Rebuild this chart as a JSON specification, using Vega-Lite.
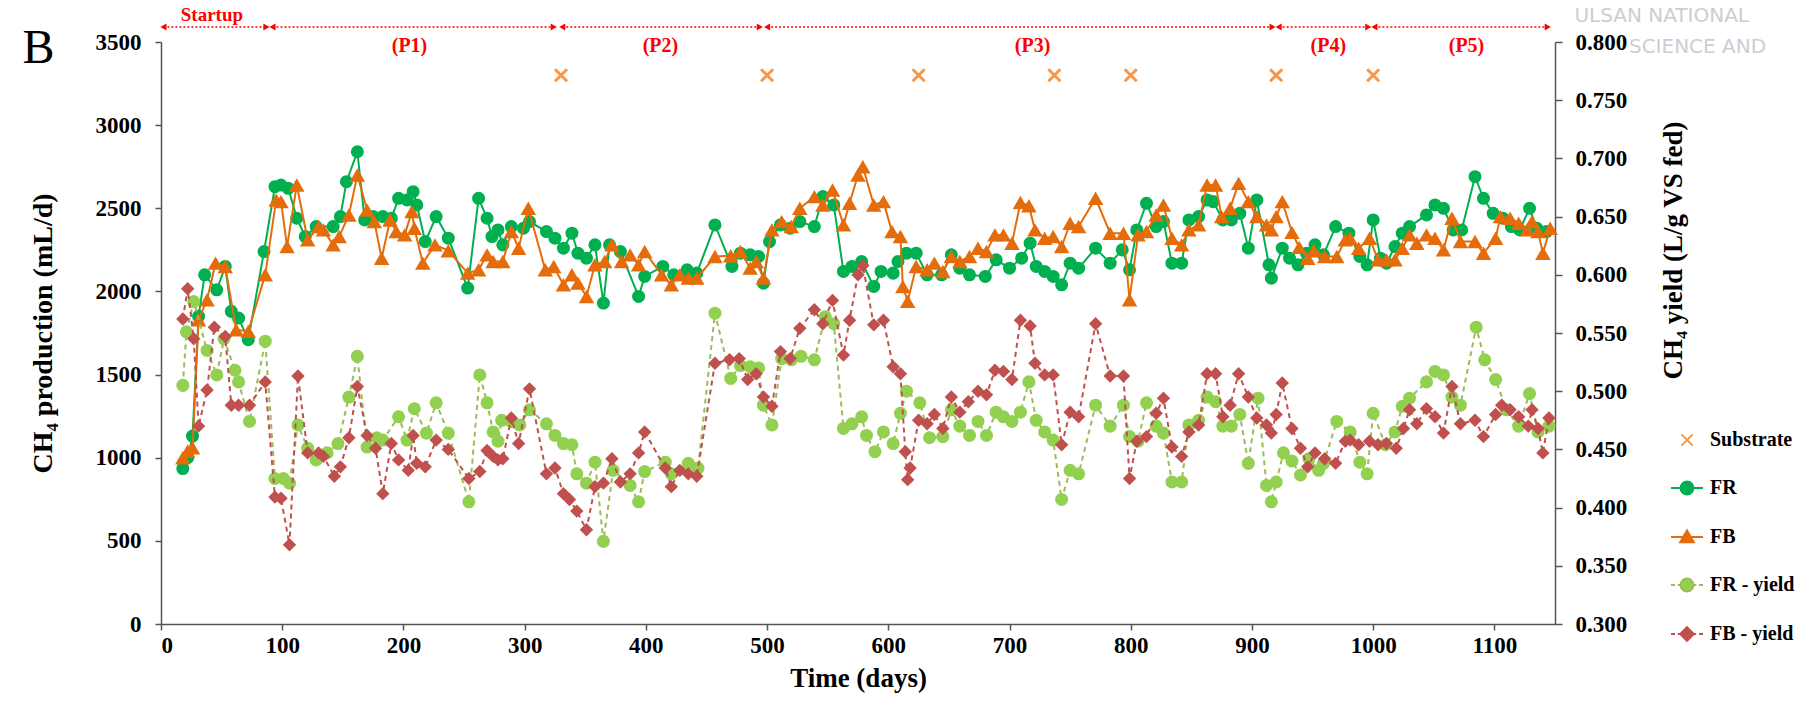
{
  "$schema": "https://vega.github.io/schema/vega-lite/v6.json",
  "autosize": {"type": "none"},
  "padding": {"left": 161, "top": 42, "right": 248, "bottom": 77},
  "width": 1394,
  "height": 582,
  "config": {
    "font": "Liberation Serif",
    "view": {"stroke": null},
    "axis": {"grid": false, "labelFont": "Liberation Serif", "labelFontSize": 23, "labelFontWeight": "bold", "labelColor": "#000000", "titleFont": "Liberation Serif", "titleFontSize": 27, "titleFontWeight": "bold", "titleColor": "#000000", "domainColor": "#555555", "tickColor": "#555555", "domainWidth": 1.5, "tickWidth": 1.5},
    "legend": {"orient": "none", "legendX": 1516, "legendY": 388, "padding": 0, "labelFont": "Liberation Serif", "labelFontWeight": "bold", "labelFontSize": 20, "labelColor": "#000000", "symbolSize": 256, "symbolStrokeWidth": 2, "rowPadding": 27, "labelOffset": 13, "symbolOpacity": 1}
  },
  "datasets": {
    "FR": [
      {"d":18,"v":935},{"d":22,"v":1000},{"d":26,"v":1130},{"d":31,"v":1850},{"d":36,"v":2100},{"d":46,"v":2010},{"d":53,"v":2150},{"d":58,"v":1880},{"d":64,"v":1840},{"d":72,"v":1710},{"d":85,"v":2240},{"d":94,"v":2630},{"d":99,"v":2640},{"d":105,"v":2620},{"d":112,"v":2440},{"d":119,"v":2330},{"d":128,"v":2390},{"d":142,"v":2390},{"d":148,"v":2450},{"d":153,"v":2660},{"d":162,"v":2840},{"d":168,"v":2430},{"d":175,"v":2450},{"d":183,"v":2450},{"d":190,"v":2440},{"d":196,"v":2560},{"d":203,"v":2550},{"d":208,"v":2600},{"d":211,"v":2520},{"d":218,"v":2300},{"d":227,"v":2450},{"d":237,"v":2320},{"d":253,"v":2020},{"d":262,"v":2560},{"d":269,"v":2440},{"d":273,"v":2330},{"d":278,"v":2370},{"d":282,"v":2280},{"d":289,"v":2390},{"d":299,"v":2380},{"d":304,"v":2420},{"d":318,"v":2360},{"d":325,"v":2320},{"d":332,"v":2260},{"d":339,"v":2350},{"d":344,"v":2230},{"d":351,"v":2200},{"d":358,"v":2280},{"d":365,"v":1930},{"d":370,"v":2280},{"d":379,"v":2240},{"d":394,"v":1970},{"d":399,"v":2090},{"d":414,"v":2150},{"d":423,"v":2100},{"d":434,"v":2130},{"d":442,"v":2110},{"d":457,"v":2400},{"d":471,"v":2150},{"d":478,"v":2230},{"d":486,"v":2220},{"d":493,"v":2210},{"d":497,"v":2050},{"d":502,"v":2300},{"d":511,"v":2400},{"d":519,"v":2380},{"d":527,"v":2420},{"d":539,"v":2390},{"d":546,"v":2570},{"d":555,"v":2520},{"d":563,"v":2120},{"d":570,"v":2150},{"d":578,"v":2180},{"d":588,"v":2030},{"d":594,"v":2120},{"d":604,"v":2110},{"d":608,"v":2180},{"d":615,"v":2230},{"d":623,"v":2230},{"d":632,"v":2100},{"d":644,"v":2100},{"d":652,"v":2220},{"d":659,"v":2140},{"d":667,"v":2100},{"d":680,"v":2090},{"d":689,"v":2190},{"d":700,"v":2140},{"d":710,"v":2200},{"d":717,"v":2290},{"d":722,"v":2150},{"d":729,"v":2120},{"d":736,"v":2090},{"d":743,"v":2040},{"d":750,"v":2170},{"d":757,"v":2140},{"d":771,"v":2260},{"d":783,"v":2170},{"d":793,"v":2250},{"d":799,"v":2130},{"d":805,"v":2370},{"d":813,"v":2530},{"d":821,"v":2390},{"d":827,"v":2420},{"d":834,"v":2170},{"d":842,"v":2170},{"d":848,"v":2430},{"d":856,"v":2450},{"d":863,"v":2550},{"d":868,"v":2540},{"d":876,"v":2430},{"d":883,"v":2430},{"d":890,"v":2470},{"d":897,"v":2260},{"d":904,"v":2550},{"d":914,"v":2160},{"d":916,"v":2080},{"d":925,"v":2260},{"d":931,"v":2200},{"d":938,"v":2160},{"d":945,"v":2230},{"d":952,"v":2280},{"d":959,"v":2220},{"d":969,"v":2390},{"d":980,"v":2350},{"d":989,"v":2210},{"d":995,"v":2160},{"d":1000,"v":2430},{"d":1006,"v":2200},{"d":1011,"v":2170},{"d":1018,"v":2270},{"d":1024,"v":2350},{"d":1030,"v":2390},{"d":1044,"v":2460},{"d":1051,"v":2520},{"d":1058,"v":2500},{"d":1066,"v":2370},{"d":1073,"v":2370},{"d":1084,"v":2690},{"d":1091,"v":2560},{"d":1099,"v":2470},{"d":1107,"v":2440},{"d":1114,"v":2390},{"d":1121,"v":2370},{"d":1129,"v":2500},{"d":1135,"v":2380},{"d":1143,"v":2360}
    ],
    "FB": [
      {"d":18,"v":1000},{"d":22,"v":1040},{"d":26,"v":1060},{"d":31,"v":1830},{"d":38,"v":1950},{"d":45,"v":2170},{"d":53,"v":2150},{"d":62,"v":1770},{"d":72,"v":1760},{"d":86,"v":2100},{"d":95,"v":2550},{"d":99,"v":2540},{"d":104,"v":2270},{"d":112,"v":2640},{"d":121,"v":2310},{"d":130,"v":2390},{"d":134,"v":2370},{"d":142,"v":2280},{"d":147,"v":2330},{"d":155,"v":2460},{"d":162,"v":2700},{"d":170,"v":2490},{"d":176,"v":2420},{"d":182,"v":2200},{"d":189,"v":2430},{"d":194,"v":2360},{"d":201,"v":2340},{"d":207,"v":2480},{"d":209,"v":2380},{"d":216,"v":2170},{"d":226,"v":2280},{"d":237,"v":2245},{"d":253,"v":2110},{"d":262,"v":2130},{"d":269,"v":2220},{"d":274,"v":2180},{"d":282,"v":2180},{"d":289,"v":2360},{"d":295,"v":2260},{"d":303,"v":2500},{"d":317,"v":2130},{"d":324,"v":2150},{"d":332,"v":2040},{"d":339,"v":2100},{"d":344,"v":2050},{"d":351,"v":1970},{"d":358,"v":2160},{"d":366,"v":2180},{"d":372,"v":2280},{"d":380,"v":2180},{"d":387,"v":2220},{"d":394,"v":2160},{"d":399,"v":2240},{"d":413,"v":2100},{"d":421,"v":2040},{"d":428,"v":2100},{"d":435,"v":2080},{"d":442,"v":2080},{"d":457,"v":2210},{"d":470,"v":2215},{"d":478,"v":2240},{"d":486,"v":2140},{"d":491,"v":2180},{"d":497,"v":2080},{"d":504,"v":2370},{"d":512,"v":2420},{"d":520,"v":2390},{"d":527,"v":2500},{"d":539,"v":2570},{"d":546,"v":2520},{"d":554,"v":2610},{"d":563,"v":2400},{"d":568,"v":2530},{"d":575,"v":2700},{"d":579,"v":2750},{"d":588,"v":2520},{"d":596,"v":2540},{"d":603,"v":2360},{"d":610,"v":2330},{"d":612,"v":2030},{"d":616,"v":1940},{"d":623,"v":2150},{"d":632,"v":2130},{"d":638,"v":2170},{"d":645,"v":2120},{"d":652,"v":2210},{"d":659,"v":2180},{"d":667,"v":2210},{"d":674,"v":2260},{"d":681,"v":2240},{"d":688,"v":2340},{"d":695,"v":2340},{"d":702,"v":2290},{"d":709,"v":2535},{"d":716,"v":2515},{"d":721,"v":2370},{"d":729,"v":2320},{"d":736,"v":2330},{"d":743,"v":2270},{"d":750,"v":2410},{"d":757,"v":2390},{"d":771,"v":2560},{"d":783,"v":2350},{"d":794,"v":2350},{"d":799,"v":1950},{"d":806,"v":2340},{"d":813,"v":2360},{"d":821,"v":2460},{"d":827,"v":2520},{"d":834,"v":2320},{"d":842,"v":2280},{"d":848,"v":2370},{"d":856,"v":2400},{"d":863,"v":2640},{"d":870,"v":2640},{"d":875,"v":2450},{"d":882,"v":2500},{"d":889,"v":2650},{"d":897,"v":2540},{"d":904,"v":2450},{"d":912,"v":2400},{"d":916,"v":2370},{"d":920,"v":2450},{"d":925,"v":2540},{"d":933,"v":2355},{"d":939,"v":2265},{"d":946,"v":2200},{"d":951,"v":2245},{"d":960,"v":2210},{"d":970,"v":2210},{"d":977,"v":2310},{"d":981,"v":2320},{"d":988,"v":2260},{"d":997,"v":2320},{"d":1004,"v":2190},{"d":1011,"v":2190},{"d":1018,"v":2190},{"d":1024,"v":2260},{"d":1030,"v":2340},{"d":1036,"v":2290},{"d":1044,"v":2340},{"d":1051,"v":2320},{"d":1058,"v":2250},{"d":1065,"v":2440},{"d":1072,"v":2300},{"d":1084,"v":2300},{"d":1091,"v":2230},{"d":1101,"v":2320},{"d":1105,"v":2450},{"d":1113,"v":2440},{"d":1120,"v":2410},{"d":1127,"v":2370},{"d":1131,"v":2420},{"d":1136,"v":2360},{"d":1140,"v":2230},{"d":1146,"v":2380}
    ],
    "FRY": [
      {"d":18,"v":0.505},{"d":21,"v":0.551},{"d":27,"v":0.577},{"d":38,"v":0.535},{"d":46,"v":0.514},{"d":52,"v":0.545},{"d":61,"v":0.518},{"d":64,"v":0.508},{"d":73,"v":0.474},{"d":86,"v":0.543},{"d":94,"v":0.425},{"d":101,"v":0.425},{"d":106,"v":0.421},{"d":113,"v":0.471},{"d":121,"v":0.451},{"d":128,"v":0.441},{"d":137,"v":0.447},{"d":146,"v":0.455},{"d":155,"v":0.495},{"d":162,"v":0.530},{"d":170,"v":0.452},{"d":178,"v":0.460},{"d":183,"v":0.458},{"d":196,"v":0.478},{"d":203,"v":0.458},{"d":209,"v":0.485},{"d":219,"v":0.464},{"d":227,"v":0.490},{"d":237,"v":0.464},{"d":254,"v":0.405},{"d":263,"v":0.514},{"d":269,"v":0.490},{"d":274,"v":0.465},{"d":278,"v":0.457},{"d":281,"v":0.475},{"d":289,"v":0.474},{"d":296,"v":0.471},{"d":304,"v":0.484},{"d":318,"v":0.472},{"d":325,"v":0.462},{"d":332,"v":0.455},{"d":339,"v":0.454},{"d":343,"v":0.429},{"d":351,"v":0.421},{"d":358,"v":0.439},{"d":365,"v":0.371},{"d":373,"v":0.432},{"d":387,"v":0.419},{"d":394,"v":0.405},{"d":399,"v":0.431},{"d":416,"v":0.439},{"d":421,"v":0.429},{"d":435,"v":0.438},{"d":443,"v":0.434},{"d":457,"v":0.567},{"d":470,"v":0.511},{"d":478,"v":0.522},{"d":486,"v":0.521},{"d":493,"v":0.520},{"d":497,"v":0.488},{"d":504,"v":0.471},{"d":512,"v":0.528},{"d":520,"v":0.527},{"d":528,"v":0.530},{"d":539,"v":0.527},{"d":548,"v":0.564},{"d":555,"v":0.558},{"d":563,"v":0.468},{"d":570,"v":0.472},{"d":578,"v":0.478},{"d":582,"v":0.462},{"d":589,"v":0.448},{"d":596,"v":0.465},{"d":604,"v":0.455},{"d":610,"v":0.481},{"d":615,"v":0.500},{"d":626,"v":0.490},{"d":634,"v":0.460},{"d":645,"v":0.461},{"d":652,"v":0.484},{"d":659,"v":0.470},{"d":667,"v":0.462},{"d":674,"v":0.474},{"d":681,"v":0.462},{"d":689,"v":0.482},{"d":695,"v":0.478},{"d":702,"v":0.474},{"d":709,"v":0.482},{"d":716,"v":0.508},{"d":722,"v":0.475},{"d":729,"v":0.465},{"d":736,"v":0.458},{"d":743,"v":0.407},{"d":750,"v":0.432},{"d":757,"v":0.429},{"d":771,"v":0.488},{"d":783,"v":0.470},{"d":794,"v":0.488},{"d":799,"v":0.461},{"d":806,"v":0.457},{"d":813,"v":0.490},{"d":821,"v":0.470},{"d":827,"v":0.464},{"d":834,"v":0.422},{"d":842,"v":0.422},{"d":848,"v":0.471},{"d":856,"v":0.475},{"d":863,"v":0.495},{"d":870,"v":0.491},{"d":876,"v":0.470},{"d":883,"v":0.470},{"d":890,"v":0.480},{"d":897,"v":0.438},{"d":905,"v":0.494},{"d":912,"v":0.419},{"d":916,"v":0.405},{"d":920,"v":0.422},{"d":926,"v":0.447},{"d":933,"v":0.440},{"d":940,"v":0.428},{"d":947,"v":0.442},{"d":955,"v":0.432},{"d":959,"v":0.438},{"d":970,"v":0.474},{"d":981,"v":0.465},{"d":989,"v":0.439},{"d":995,"v":0.429},{"d":1000,"v":0.481},{"d":1010,"v":0.454},{"d":1018,"v":0.465},{"d":1024,"v":0.487},{"d":1030,"v":0.494},{"d":1044,"v":0.508},{"d":1051,"v":0.517},{"d":1058,"v":0.514},{"d":1065,"v":0.495},{"d":1072,"v":0.488},{"d":1085,"v":0.555},{"d":1092,"v":0.527},{"d":1101,"v":0.510},{"d":1110,"v":0.484},{"d":1120,"v":0.470},{"d":1129,"v":0.498},{"d":1136,"v":0.465},{"d":1145,"v":0.470}
    ],
    "FBY": [
      {"d":18,"v":0.562},{"d":22,"v":0.588},{"d":27,"v":0.545},{"d":31,"v":0.470},{"d":38,"v":0.501},{"d":44,"v":0.555},{"d":53,"v":0.547},{"d":58,"v":0.488},{"d":64,"v":0.488},{"d":73,"v":0.488},{"d":86,"v":0.508},{"d":94,"v":0.409},{"d":99,"v":0.408},{"d":106,"v":0.368},{"d":113,"v":0.513},{"d":121,"v":0.447},{"d":130,"v":0.447},{"d":134,"v":0.444},{"d":143,"v":0.427},{"d":148,"v":0.435},{"d":155,"v":0.460},{"d":162,"v":0.504},{"d":170,"v":0.462},{"d":177,"v":0.451},{"d":183,"v":0.412},{"d":190,"v":0.455},{"d":196,"v":0.441},{"d":204,"v":0.432},{"d":208,"v":0.462},{"d":211,"v":0.438},{"d":218,"v":0.435},{"d":227,"v":0.458},{"d":237,"v":0.450},{"d":254,"v":0.425},{"d":263,"v":0.431},{"d":269,"v":0.449},{"d":274,"v":0.444},{"d":278,"v":0.441},{"d":282,"v":0.442},{"d":289,"v":0.477},{"d":295,"v":0.455},{"d":304,"v":0.502},{"d":318,"v":0.429},{"d":325,"v":0.434},{"d":332,"v":0.412},{"d":337,"v":0.407},{"d":343,"v":0.397},{"d":351,"v":0.381},{"d":358,"v":0.418},{"d":365,"v":0.421},{"d":372,"v":0.442},{"d":379,"v":0.422},{"d":387,"v":0.429},{"d":394,"v":0.447},{"d":399,"v":0.465},{"d":416,"v":0.434},{"d":421,"v":0.418},{"d":428,"v":0.432},{"d":435,"v":0.429},{"d":442,"v":0.427},{"d":457,"v":0.524},{"d":469,"v":0.527},{"d":477,"v":0.528},{"d":484,"v":0.510},{"d":491,"v":0.515},{"d":497,"v":0.495},{"d":504,"v":0.487},{"d":511,"v":0.534},{"d":519,"v":0.528},{"d":527,"v":0.554},{"d":539,"v":0.570},{"d":546,"v":0.558},{"d":554,"v":0.578},{"d":563,"v":0.531},{"d":568,"v":0.561},{"d":575,"v":0.600},{"d":579,"v":0.608},{"d":588,"v":0.557},{"d":596,"v":0.561},{"d":604,"v":0.521},{"d":610,"v":0.515},{"d":614,"v":0.448},{"d":616,"v":0.424},{"d":618,"v":0.434},{"d":625,"v":0.475},{"d":632,"v":0.472},{"d":638,"v":0.480},{"d":645,"v":0.468},{"d":652,"v":0.495},{"d":659,"v":0.482},{"d":666,"v":0.491},{"d":674,"v":0.500},{"d":681,"v":0.497},{"d":688,"v":0.518},{"d":695,"v":0.517},{"d":702,"v":0.510},{"d":709,"v":0.561},{"d":717,"v":0.556},{"d":721,"v":0.524},{"d":729,"v":0.514},{"d":736,"v":0.514},{"d":743,"v":0.454},{"d":750,"v":0.482},{"d":757,"v":0.478},{"d":771,"v":0.558},{"d":783,"v":0.513},{"d":794,"v":0.513},{"d":799,"v":0.425},{"d":805,"v":0.457},{"d":813,"v":0.461},{"d":821,"v":0.481},{"d":827,"v":0.494},{"d":834,"v":0.452},{"d":842,"v":0.444},{"d":848,"v":0.465},{"d":856,"v":0.471},{"d":863,"v":0.515},{"d":870,"v":0.515},{"d":876,"v":0.478},{"d":882,"v":0.488},{"d":889,"v":0.515},{"d":897,"v":0.495},{"d":904,"v":0.477},{"d":912,"v":0.471},{"d":916,"v":0.464},{"d":920,"v":0.480},{"d":925,"v":0.507},{"d":933,"v":0.468},{"d":940,"v":0.451},{"d":946,"v":0.435},{"d":952,"v":0.447},{"d":960,"v":0.442},{"d":969,"v":0.438},{"d":977,"v":0.457},{"d":981,"v":0.458},{"d":988,"v":0.454},{"d":997,"v":0.457},{"d":1004,"v":0.454},{"d":1011,"v":0.455},{"d":1019,"v":0.451},{"d":1025,"v":0.468},{"d":1030,"v":0.484},{"d":1036,"v":0.472},{"d":1044,"v":0.485},{"d":1051,"v":0.478},{"d":1058,"v":0.464},{"d":1065,"v":0.504},{"d":1072,"v":0.472},{"d":1084,"v":0.475},{"d":1091,"v":0.461},{"d":1101,"v":0.480},{"d":1106,"v":0.488},{"d":1113,"v":0.484},{"d":1120,"v":0.478},{"d":1128,"v":0.470},{"d":1131,"v":0.484},{"d":1136,"v":0.468},{"d":1140,"v":0.447},{"d":1145,"v":0.477}
    ],
    "sub": [{"d":330,"v":3300},{"d":500,"v":3300},{"d":625,"v":3300},{"d":737,"v":3300},{"d":800,"v":3300},{"d":920,"v":3300},{"d":1000,"v":3300}],
    "arrows": [{"d":2,"d2":87,"v":3590},{"d":92,"d2":324,"v":3590},{"d":331,"d2":494,"v":3590},{"d":500,"d2":917,"v":3590},{"d":922,"d2":996,"v":3590},{"d":1001,"d2":1144,"v":3590}],
    "heads": [
      {"d":2,"v":3590,"side":"start"},{"d":87,"v":3590,"side":"end"},
      {"d":92,"v":3590,"side":"start"},{"d":324,"v":3590,"side":"end"},
      {"d":331,"v":3590,"side":"start"},{"d":494,"v":3590,"side":"end"},
      {"d":500,"v":3590,"side":"start"},{"d":917,"v":3590,"side":"end"},
      {"d":922,"v":3590,"side":"start"},{"d":996,"v":3590,"side":"end"},
      {"d":1001,"v":3590,"side":"start"},{"d":1144,"v":3590,"side":"end"}
    ],
    "labels": [{"d":205,"v":3478,"t":"(P1)"},{"d":412,"v":3478,"t":"(P2)"},{"d":719,"v":3478,"t":"(P3)"},{"d":963,"v":3478,"t":"(P4)"},{"d":1077,"v":3478,"t":"(P5)"}],
    "startup": [{"d":42,"v":3660,"t":"Startup"}],
    "panel": [{"d":-101,"v":3375,"t":"B"}],
    "mark": [{"d":1166,"v":3655,"t":"ULSAN NATIONAL"},{"d":1211,"v":3472,"t":"SCIENCE AND"}]
  },
  "encoding": {
    "x": {"field": "d", "type": "quantitative", "scale": {"domain": [0, 1150], "nice": false, "zero": false},
      "axis": {"values": [0,100,200,300,400,500,600,700,800,900,1000,1100], "format": "d", "title": "Time (days)", "titleY": 54, "titleBaseline": "middle", "tickSize": 6, "labelPadding": 4}}
  },
  "layer": [
    {
      "encoding": {
        "y": {"field": "v", "type": "quantitative", "scale": {"domain": [0, 3500], "nice": false},
          "axis": {"orient": "left", "values": [0,500,1000,1500,2000,2500,3000,3500], "format": "d", "title": "CH₄ production (mL/d)", "titleX": -118, "titleY": 291, "titleAngle": 270, "titleBaseline": "middle", "titleFontSize": 28, "labelPadding": 14, "tickSize": 6}}
      },
      "layer": [
        {"data": {"name": "FR"}, "mark": {"type": "line", "color": "#00B050", "strokeWidth": 2}},
        {"data": {"name": "FR"}, "mark": {"type": "point", "filled": true, "opacity": 1, "color": "#00B050", "size": 170}},
        {"data": {"name": "FB"}, "mark": {"type": "line", "color": "#E46C0A", "strokeWidth": 2}},
        {"data": {"name": "FB"}, "mark": {"type": "point", "filled": true, "opacity": 1, "color": "#E46C0A", "shape": "triangle-up", "size": 240}},
        {"data": {"name": "sub"}, "mark": {"type": "point", "filled": false, "opacity": 1, "color": "#F79646", "strokeWidth": 3, "shape": "M-1,-1L1,1M-1,1L1,-1", "size": 144}},
        {"data": {"name": "arrows"}, "mark": {"type": "rule", "color": "#FF0000", "strokeWidth": 1.5, "strokeDash": [2, 2]}, "encoding": {"x2": {"field": "d2"}}},
        {"data": {"name": "heads"}, "transform": [{"filter": "datum.side == 'start'"}], "mark": {"type": "point", "filled": true, "opacity": 1, "color": "#FF0000", "shape": "triangle-left", "size": 50}},
        {"data": {"name": "heads"}, "transform": [{"filter": "datum.side == 'end'"}], "mark": {"type": "point", "filled": true, "opacity": 1, "color": "#FF0000", "shape": "triangle-right", "size": 50}},
        {"data": {"name": "labels"}, "mark": {"type": "text", "color": "#FF0000", "font": "Liberation Serif", "fontWeight": "bold", "fontSize": 20, "baseline": "middle", "align": "center"}, "encoding": {"text": {"field": "t"}}},
        {"data": {"name": "startup"}, "mark": {"type": "text", "color": "#FF0000", "font": "Liberation Serif", "fontWeight": "bold", "fontSize": 19, "baseline": "middle", "align": "center"}, "encoding": {"text": {"field": "t"}}},
        {"data": {"name": "panel"}, "mark": {"type": "text", "color": "#000000", "font": "Liberation Serif", "fontWeight": "normal", "fontSize": 48, "baseline": "alphabetic", "align": "center"}, "encoding": {"text": {"field": "t"}}},
        {"data": {"name": "mark"}, "mark": {"type": "text", "color": "#C9CED6", "font": "DejaVu Sans", "fontWeight": "normal", "fontSize": 20, "baseline": "middle", "align": "left"}, "encoding": {"text": {"field": "t"}}},
        {
          "data": {"values": [{"s": "Substrate"}, {"s": "FR"}, {"s": "FB"}, {"s": "FR - yield"}, {"s": "FB - yield"}]},
          "transform": [{"filter": "false"}],
          "mark": {"type": "point", "filled": true, "opacity": 1, "size": 256},
          "encoding": {
            "shape": {"field": "s", "type": "nominal", "legend": {"title": null},
              "scale": {"domain": ["Substrate", "FR", "FB", "FR - yield", "FB - yield"],
                "range": [
                  "M-0.7,-0.7L0.7,0.7M-0.7,0.7L0.7,-0.7",
                  "M-2,0L2,0M0.8,0C0.8,0.442 0.442,0.8 0,0.8C-0.442,0.8 -0.8,0.442 -0.8,0C-0.8,-0.442 -0.442,-0.8 0,-0.8C0.442,-0.8 0.8,-0.442 0.8,0Z",
                  "M-2,0L2,0M0,-0.8L0.85,0.65L-0.85,0.65Z",
                  "M-2,0L-1.5,0M-1.15,0L-0.65,0M0.65,0L1.15,0M1.5,0L2,0M0.8,0C0.8,0.442 0.442,0.8 0,0.8C-0.442,0.8 -0.8,0.442 -0.8,0C-0.8,-0.442 -0.442,-0.8 0,-0.8C0.442,-0.8 0.8,-0.442 0.8,0Z",
                  "M-2,0L-1.5,0M-1.15,0L-0.65,0M0.65,0L1.15,0M1.5,0L2,0M0,-0.85L0.85,0L0,0.85L-0.85,0Z"
                ]}},
            "fill": {"field": "s", "type": "nominal", "legend": {"title": null},
              "scale": {"domain": ["Substrate", "FR", "FB", "FR - yield", "FB - yield"], "range": ["#F79646", "#00B050", "#E46C0A", "#92D050", "#C0504D"]}},
            "stroke": {"field": "s", "type": "nominal", "legend": {"title": null},
              "scale": {"domain": ["Substrate", "FR", "FB", "FR - yield", "FB - yield"], "range": ["#F79646", "#00B050", "#E46C0A", "#9BBB59", "#C0504D"]}}
          }
        }
      ]
    },
    {
      "encoding": {
        "y": {"field": "v", "type": "quantitative", "scale": {"domain": [0.3, 0.8], "nice": false, "zero": false},
          "axis": {"orient": "right", "values": [0.3,0.35,0.4,0.45,0.5,0.55,0.6,0.65,0.7,0.75,0.8], "format": ".3f", "title": "CH₄ yield (L/g VS fed)", "titleX": 118, "titleY": 208, "titleAngle": 270, "titleBaseline": "middle", "labelPadding": 13, "tickSize": 7}}
      },
      "layer": [
        {"data": {"name": "FRY"}, "mark": {"type": "line", "color": "#9BBB59", "strokeWidth": 2, "strokeDash": [5, 4]}},
        {"data": {"name": "FRY"}, "mark": {"type": "point", "filled": true, "opacity": 1, "color": "#92D050", "size": 170}},
        {"data": {"name": "FBY"}, "mark": {"type": "line", "color": "#C0504D", "strokeWidth": 2, "strokeDash": [5, 4]}},
        {"data": {"name": "FBY"}, "mark": {"type": "point", "filled": true, "opacity": 1, "color": "#C0504D", "shape": "diamond", "size": 180}}
      ]
    }
  ],
  "resolve": {"scale": {"y": "independent"}}
}
